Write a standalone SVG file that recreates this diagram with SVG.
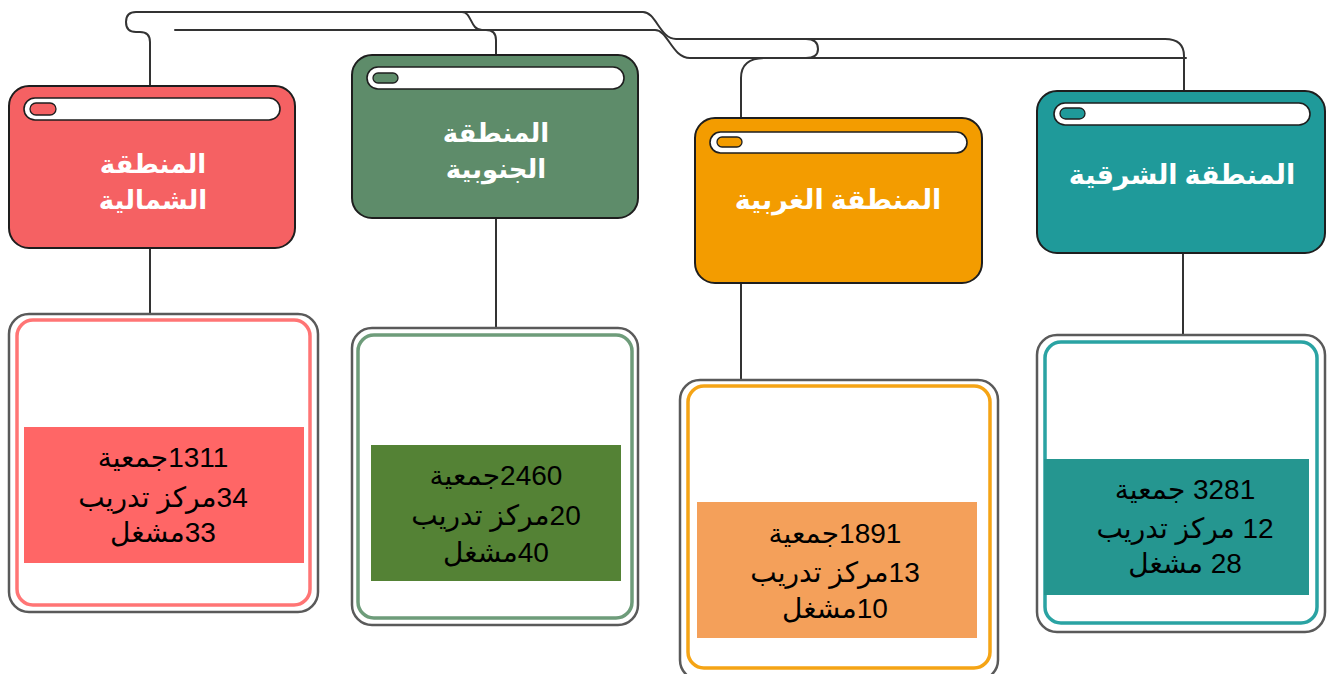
<svg xmlns="http://www.w3.org/2000/svg" width="1331" height="674" viewBox="0 0 1331 674">
<style>
.conn{fill:none;stroke:#333;stroke-width:2;stroke-linecap:round}
.hdr{stroke:#1e1e1e;stroke-width:2}
.bar{fill:#fff;stroke:#1e1e1e;stroke-width:1.6}
.pill{stroke:#1e1e1e;stroke-width:1.3}
.htxt{font-family:"Noto Sans","DejaVu Sans",sans-serif;font-weight:bold;font-size:26px;fill:#fff;text-anchor:middle;direction:rtl}
.big{font-size:27px}
.outer{fill:#fff;stroke:#5a5a5a;stroke-width:2.5}
.inner{fill:#fff;stroke-width:3.5}
.dtxt{font-family:"Liberation Sans",Arial,"DejaVu Sans",sans-serif;font-size:28px;fill:#000;text-anchor:middle;direction:rtl}
</style>
<rect width="1331" height="674" fill="#fff"/>
<g id="connectors">
<path class="conn" d="M150,86 V42 Q150,32 140,32 H136 Q126,32 126,22 Q126,12 136,12 H462 C472,12 470,30 482,30 H486 Q496,30 496,40 V55"/>
<path class="conn" d="M440,12 H643 C656,12 660,39 676,39 H1165 Q1184,39 1184,56 V91"/>
<path class="conn" d="M175,30 H655 C668,30 672,58 690,58 H1186"/>
<path class="conn" d="M741,120 V78 Q741,58 765,58 H806 Q818,58 818,49 Q818,39 806,39 H755"/>
<path class="conn" d="M150,248 V314"/>
<path class="conn" d="M496,218 V328"/>
<path class="conn" d="M741,283 V380"/>
<path class="conn" d="M1183,253 V335"/>
</g>
<g id="north-header">
<rect class="hdr" x="9" y="86" width="286" height="162" rx="20" fill="#F56163"/>
<rect class="bar" x="24" y="98" width="256" height="22" rx="11"/>
<rect class="pill" x="30" y="103" width="26" height="12" rx="6" fill="#F56163"/>
<text class="htxt" x="153" y="173">المنطقة</text>
<text class="htxt" x="153" y="209">الشمالية</text>
</g>
<g id="south-header">
<rect class="hdr" x="352" y="55" width="286" height="163" rx="20" fill="#5E8C6A"/>
<rect class="bar" x="367" y="67" width="257" height="22" rx="11"/>
<rect class="pill" x="373" y="73" width="25" height="10" rx="5" fill="#5E8C6A"/>
<text class="htxt" x="496" y="142">المنطقة</text>
<text class="htxt" x="496" y="178">الجنوبية</text>
</g>
<g id="west-header">
<rect class="hdr" x="695" y="118" width="287" height="165" rx="20" fill="#F39C00"/>
<rect class="bar" x="710" y="132" width="257" height="21" rx="10.5"/>
<rect class="pill" x="717" y="137" width="25" height="10" rx="5" fill="#F39C00"/>
<text class="htxt big" x="838" y="209">المنطقة الغربية</text>
</g>
<g id="east-header">
<rect class="hdr" x="1037" y="91" width="288" height="162" rx="20" fill="#1F9A9A"/>
<rect class="bar" x="1054" y="103" width="256" height="22" rx="11"/>
<rect class="pill" x="1060" y="108" width="25" height="11" rx="5.5" fill="#1F9A9A"/>
<text class="htxt big" x="1182" y="184">المنطقة الشرقية</text>
</g>
<g id="north-details">
<rect class="outer" x="9" y="314" width="309" height="298" rx="20"/>
<rect class="inner" x="17" y="320" width="293" height="285" rx="16" stroke="#FF7575"/>
<rect x="24" y="427" width="280" height="136" fill="#FF6666"/>
<text class="dtxt" x="163" y="467">1311جمعية</text>
<text class="dtxt" x="163" y="507">34مركز تدريب</text>
<text class="dtxt" x="163" y="542">33مشغل</text>
</g>
<g id="south-details">
<rect class="outer" x="352" y="328" width="286" height="297" rx="20"/>
<rect class="inner" x="358" y="335" width="274" height="283" rx="16" stroke="#6E9C7A"/>
<rect x="371" y="445" width="250" height="136" fill="#548235"/>
<text class="dtxt" x="496" y="485">2460جمعية</text>
<text class="dtxt" x="496" y="525">20مركز تدريب</text>
<text class="dtxt" x="496" y="562">40مشغل</text>
</g>
<g id="west-details">
<rect class="outer" x="680" y="380" width="318" height="300" rx="20"/>
<rect class="inner" x="688" y="386" width="302" height="282" rx="16" stroke="#F5A415"/>
<rect x="697" y="502" width="280" height="136" fill="#F4A05A"/>
<text class="dtxt" x="835" y="543">1891جمعية</text>
<text class="dtxt" x="835" y="582">13مركز تدريب</text>
<text class="dtxt" x="835" y="618">10مشغل</text>
</g>
<g id="east-details">
<rect class="outer" x="1037" y="335" width="288" height="297" rx="20"/>
<rect class="inner" x="1045" y="342" width="272" height="281" rx="16" stroke="#2AA3A3"/>
<rect x="1044" y="459" width="265" height="136" fill="#259690"/>
<text class="dtxt" x="1185" y="499">3281 جمعية</text>
<text class="dtxt" x="1185" y="538">12 مركز تدريب</text>
<text class="dtxt" x="1185" y="573">28 مشغل</text>
</g>
</svg>
